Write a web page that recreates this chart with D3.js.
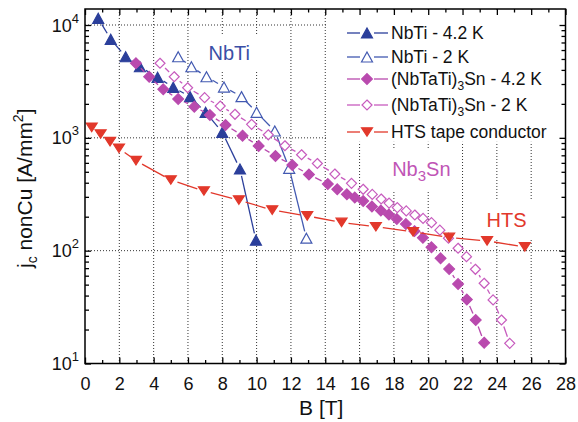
<!DOCTYPE html>
<html><head><meta charset="utf-8">
<script src="https://cdn.jsdelivr.net/npm/d3@7"></script>
<style>body{margin:0;background:#fff}svg{display:block;font-family:"Liberation Sans",Arial,sans-serif}</style>
</head><body><svg id="c" width="578" height="422"></svg>
<script>
// ---------- data ----------
const xMajorTicks = [0,2,4,6,8,10,12,14,16,18,20,22,24,26,28];
const xMinorTicks = [1,3,5,7,9,11,13,15,17,19,21,23,25,27];
const yMajorTicks = [10,100,1000,10000];
const yTickExponents = ["1","2","3","4"];

const nbti42B = [0.77,1.5,2.37,3.2,4.23,5.14,6.12,7.03,8.0,9.03,9.96];
const nbti42J = [11460,7470,5230,4265,3435,2805,2317,1683,1120,530,124];

const nbti2B = [5.43,6.2,7.08,8.1,9.12,10.0,11.06,11.9,12.9];
const nbti2J = [5230,4265,3480,2820,2317,1683,1150,537,129];

const nb3sn42B = [2.97,3.74,4.56,5.43,6.37,7.28,8.19,9.18,10.12,11.1,12.08,13.05,14.15,14.7,15.26,15.72,16.21,16.72,17.24,17.71,18.17,18.7,19.2,19.69,20.19,20.72,21.22,21.74,22.25,22.77,23.26];
const nb3sn42J = [4580,3480,2690,2210,1890,1590,1300,1046,848,690,574,473,390,350,316,296,275,246,227,209,191,172,149,130,107,85.5,68.7,50.6,36.9,24.3,15.3];

const nb3sn2B = [4.37,5.2,5.98,6.97,7.88,8.74,9.71,10.68,11.65,12.62,13.54,14.56,15.53,16.21,16.74,17.26,17.72,18.2,18.72,19.22,19.7,20.19,20.68,21.18,21.74,22.23,22.75,23.26,23.78,24.27,24.75];
const nb3sn2J = [4580,3480,2780,2270,1915,1617,1318,1064,851,708,592,478,395,350,315,287,264,241,225,207,193,177,152,129,105,88.5,68.4,51.4,36.6,24.3,15.1];

const htsB = [0.39,0.91,1.46,1.98,2.97,5.0,6.93,8.97,10.91,12.95,14.95,16.95,19.12,21.22,23.43,25.63];
const htsJ = [1239,1081,925,808,627,423,338,281,229,203,178,163,147,131,122,108];

const seriesNames = ["NbTi - 4.2 K","NbTi - 2 K","(NbTaTi)3Sn - 4.2 K","(NbTaTi)3Sn - 2 K","HTS tape conductor"];

// ---------- setup ----------
const W=578,H=422, L=85, R=565.5, T=9, B=363.5;
const svg=d3.select("#c");
const x=d3.scaleLinear().domain([0,28]).range([L,R]);
const yTop=Math.pow(10,4+16/112.83);
const y=d3.scaleLog().domain([10,yTop]).range([B,T]);

const BLUE="#2b3f9b", BLUE2="#4259b1", MAG="#b94aae", MAG2="#c75bbe", RED="#e2382b";

const mk={
  up:s=>`M0,${-s}L${s*1.1},${s}L${-s*1.1},${s}Z`,
  down:s=>`M0,${s*0.85}L${s*1.1},${-s*0.85}L${-s*1.1},${-s*0.85}Z`,
  dia:s=>`M0,${-s}L${s},0L0,${s}L${-s},0Z`
};

const series=[
  {name:seriesNames[0],B:nbti42B,J:nbti42J,shape:"up",size:5,fill:BLUE,stroke:BLUE,line:BLUE},
  {name:seriesNames[1],B:nbti2B,J:nbti2J,shape:"up",size:5,fill:"#fff",stroke:BLUE2,line:BLUE2},
  {name:seriesNames[2],B:nb3sn42B,J:nb3sn42J,shape:"dia",size:5.4,fill:MAG,stroke:MAG,line:MAG},
  {name:seriesNames[3],B:nb3sn2B,J:nb3sn2J,shape:"dia",size:5,fill:"#fff",stroke:MAG2,line:MAG2},
  {name:seriesNames[4],B:htsB,J:htsJ,shape:"down",size:5,fill:RED,stroke:RED,line:RED}
];

// ---------- grid ----------
const grid=svg.append("g").attr("stroke","#333").attr("stroke-width",1).attr("stroke-dasharray","1,2");
grid.selectAll("line.v").data(xMajorTicks.filter(d=>d>0&&d<28)).join("line")
  .attr("x1",d=>x(d)).attr("x2",d=>x(d)).attr("y1",T).attr("y2",B);
grid.selectAll("line.h").data(yMajorTicks.filter(d=>d>10)).join("line")
  .attr("x1",L).attr("x2",R).attr("y1",d=>y(d)).attr("y2",d=>y(d));

// legend background
svg.append("rect").attr("x",x(14)+1.5).attr("y",T+1).attr("width",R-x(14)-2.5).attr("height",y(1000)-T+3).attr("fill","#fff");

// annotation labels
const ann=[
  {t:"NbTi",x:x(7.2),y:60,c:"#3a4fa6"},
  {t:"Nb3Sn",x:x(17.9),y:176,c:"#bf55b6"},
  {t:"HTS",x:x(23.4),y:227,c:RED}
];
const annG=svg.append("g");
ann.forEach(a=>{
  const g=annG.append("g");
  const bg=g.append("rect").attr("fill","#fff");
  const t=g.append("text").attr("x",a.x).attr("y",a.y).attr("fill",a.c).attr("font-size",20);
  if(a.t==="Nb3Sn"){
    t.append("tspan").text("Nb");
    t.append("tspan").text("3").attr("font-size",15).attr("dy",5);
    t.append("tspan").text("Sn").attr("dy",-5);
  } else t.text(a.t);
  const bb=t.node().getBBox();
  bg.attr("x",bb.x-8).attr("y",bb.y-8).attr("width",bb.width+16).attr("height",bb.height+16);
});

// ---------- series ----------
const GAP=7;
series.forEach(s=>{
  const g=svg.append("g");
  const pts=s.B.map((b,i)=>[x(b),y(s.J[i])]);
  for(let i=0;i<pts.length-1;i++){
    const [x1,y1]=pts[i],[x2,y2]=pts[i+1];
    const dx=x2-x1,dy=y2-y1,d=Math.hypot(dx,dy);
    if(d<=2*GAP) continue;
    const ux=dx/d,uy=dy/d;
    g.append("line").attr("x1",x1+ux*GAP).attr("y1",y1+uy*GAP).attr("x2",x2-ux*GAP).attr("y2",y2-uy*GAP)
      .attr("stroke",s.line).attr("stroke-width",1.3);
  }
  g.selectAll("path").data(pts).join("path")
    .attr("transform",d=>`translate(${d[0]},${d[1]})`)
    .attr("d",mk[s.shape](s.size)).attr("fill",s.fill).attr("stroke",s.stroke).attr("stroke-width",1.2);
});

// ---------- axes ----------
const ax=svg.append("g");
function styleAxis(g){g.select(".domain").remove();g.selectAll("line").attr("stroke","#000").attr("stroke-width",1.3);}
ax.append("g").attr("transform",`translate(0,${B})`).call(d3.axisBottom(x).tickValues(xMajorTicks).tickSize(-6).tickPadding(14).tickFormat(d3.format("d")))
  .call(styleAxis).call(g=>g.selectAll("text").attr("font-size",18).attr("font-family","Liberation Sans, Arial, sans-serif").attr("fill","#111"));
ax.append("g").attr("transform",`translate(0,${B})`).call(d3.axisBottom(x).tickValues(xMinorTicks).tickSize(-3.5).tickFormat("")).call(styleAxis);
ax.append("g").attr("transform",`translate(0,${T})`).call(d3.axisTop(x).tickValues(xMajorTicks).tickSize(-6).tickFormat("")).call(styleAxis);
ax.append("g").attr("transform",`translate(0,${T})`).call(d3.axisTop(x).tickValues(xMinorTicks).tickSize(-3.5).tickFormat("")).call(styleAxis);

const yMinor=[];
[10,100,1000,10000].forEach(d=>{for(let k=2;k<=9;k++){if(d*k<yTop)yMinor.push(d*k);}});
ax.append("g").attr("transform",`translate(${L},0)`).call(d3.axisLeft(y).tickValues(yMajorTicks).tickSize(-6).tickFormat("")).call(styleAxis);
ax.append("g").attr("transform",`translate(${L},0)`).call(d3.axisLeft(y).tickValues(yMinor).tickSize(-4).tickFormat("")).call(styleAxis);
ax.append("g").attr("transform",`translate(${R},0)`).call(d3.axisRight(y).tickValues(yMajorTicks).tickSize(-6).tickFormat("")).call(styleAxis);
ax.append("g").attr("transform",`translate(${R},0)`).call(d3.axisRight(y).tickValues(yMinor).tickSize(-4).tickFormat("")).call(styleAxis);

svg.append("rect").attr("x",L).attr("y",T).attr("width",R-L).attr("height",B-T).attr("fill","none").attr("stroke","#000").attr("stroke-width",1.5);

// y tick labels 10^n
yMajorTicks.forEach((v,i)=>{
  const t=svg.append("text").attr("x",L-6).attr("y",y(v)+6.5).attr("text-anchor","end").attr("font-size",18).attr("fill","#111");
  t.append("tspan").text("10");
  t.append("tspan").text(yTickExponents[i]).attr("font-size",13).attr("dy",-9);
});

// axis titles
svg.append("text").attr("x",(L+R)/2-4).attr("y",415).attr("text-anchor","middle").attr("font-size",21).attr("fill","#111").text("B [T]");
const yt=svg.append("text").attr("transform",`translate(32,${(T+B)/2+2}) rotate(-90)`).attr("text-anchor","middle").attr("font-size",21).attr("fill","#111");
yt.append("tspan").text("j");
yt.append("tspan").text("c").attr("font-size",14).attr("dy",5);
yt.append("tspan").text(" nonCu [A/mm").attr("dy",-5);
yt.append("tspan").text("2").attr("font-size",14).attr("dy",-9);
yt.append("tspan").text("]").attr("dy",9);

// ---------- legend ----------
const legY=[33,57,79,105,132];
const lg=svg.append("g");
series.forEach((s,i)=>{
  const cy=legY[i], mx=367;
  lg.append("line").attr("x1",347).attr("x2",mx-7).attr("y1",cy).attr("y2",cy).attr("stroke",s.line).attr("stroke-width",1.3);
  lg.append("line").attr("x1",mx+7).attr("x2",388).attr("y1",cy).attr("y2",cy).attr("stroke",s.line).attr("stroke-width",1.3);
  lg.append("path").attr("transform",`translate(${mx},${cy})`).attr("d",mk[s.shape](s.size)).attr("fill",s.fill).attr("stroke",s.stroke).attr("stroke-width",1.2);
  const t=lg.append("text").attr("x",391).attr("y",cy+6).attr("font-size",17.5).attr("fill","#111");
  const m=s.name.match(/^(.*\))3(Sn.*)$/);
  if(m){
    t.append("tspan").text(m[1]);
    t.append("tspan").text("3").attr("font-size",12).attr("dy",5);
    t.append("tspan").text(m[2]).attr("dy",-5);
  } else t.text(s.name);
});
</script>
</body></html>
